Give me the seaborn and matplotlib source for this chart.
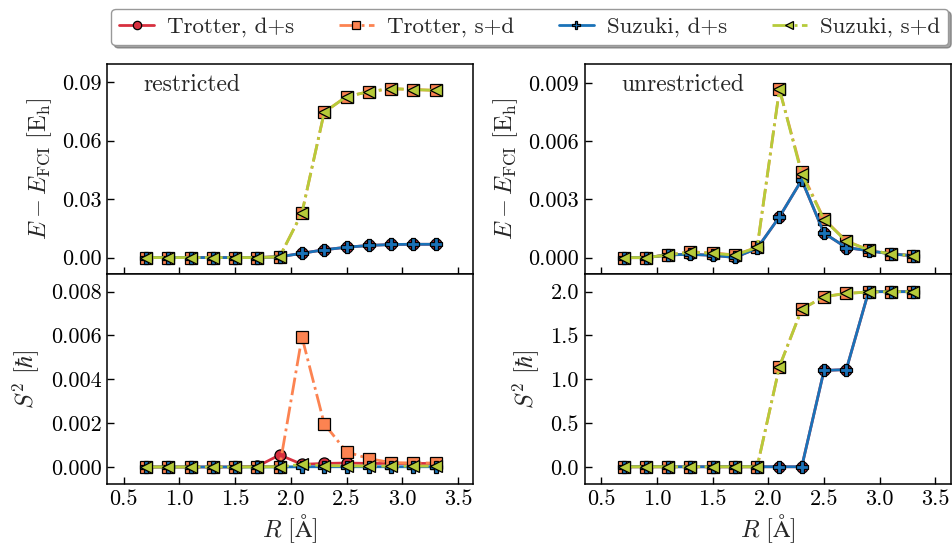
import numpy as np
import pandas as pd
import matplotlib
matplotlib.use('Agg')
import matplotlib.pyplot as plt
import seaborn as sns

R = [0.7, 0.9, 1.1, 1.3, 1.5, 1.7, 1.9, 2.1, 2.3, 2.5, 2.7, 2.9, 3.1, 3.3]

# restricted, energy error
rE_trot_ds = [0, 0, 0, 0, 0, 0, 0.0004, 0.0022, 0.0040, 0.0053, 0.0062, 0.0067, 0.0068, 0.0068]
rE_trot_sd = [0, 0, 0, 0, 0, 0, 0.0004, 0.0229, 0.0745, 0.0825, 0.0850, 0.0866, 0.0861, 0.0857]
rE_suz_ds = [0, 0, 0, 0, 0, 0, 0.0004, 0.0022, 0.0040, 0.0053, 0.0062, 0.0067, 0.0068, 0.0068]
rE_suz_sd = [0, 0, 0, 0, 0, 0, 0.0004, 0.0229, 0.0745, 0.0825, 0.0850, 0.0866, 0.0861, 0.0857]

# unrestricted, energy error
uE_trot_ds = [0, 0, 0.00014, 0.00017, 0.00012, 0.00001, 0.00048, 0.0021, 0.0040, 0.00126, 0.00052, 0.00036, 0.00019, 0.0001]
uE_trot_sd = [0, 0, 0.00014, 0.00030, 0.00024, 0.00014, 0.00053, 0.00867, 0.0044, 0.00198, 0.00086, 0.00040, 0.00019, 0.0001]
uE_suz_ds = [0, 0, 0.00014, 0.00017, 0.00012, 0.00001, 0.00048, 0.0021, 0.0040, 0.00126, 0.00052, 0.00036, 0.00019, 0.0001]
uE_suz_sd = [0, 0, 0.00014, 0.00028, 0.00022, 0.00013, 0.00053, 0.00867, 0.0043, 0.00196, 0.00084, 0.00040, 0.00019, 0.0001]

# restricted, S^2
rS_trot_ds = [0, 0, 0, 0, 0, 0.00003, 0.00055, 0.00012, 0.00016, 0.00018, 0.00016, 0.00016, 0.00016, 0.00016]
rS_trot_sd = [0, 0, 0, 0, 0, 0.00002, 0.00002, 0.00593, 0.00197, 0.00069, 0.00038, 0.00020, 0.00018, 0.00018]
rS_suz_ds = [0, 0, 0, 0, 0, 0, 0, 0.00001, 0.00001, 0.00001, 0.00001, 0.00001, 0.00001, 0.00001]
rS_suz_sd = [0, 0, 0, 0, 0, 0, 0.00001, 0.00012, 0.00006, 0.00005, 0.00004, 0.00004, 0.00004, 0.00004]

# unrestricted, S^2
uS_trot_ds = [0, 0, 0, 0, 0, 0, 0, 0, 0, 1.10, 1.11, 2.0, 2.0, 2.0]
uS_trot_sd = [0, 0, 0, 0, 0, 0, 0, 1.145, 1.80, 1.943, 1.98, 1.996, 2.0, 2.0]
uS_suz_ds = [0, 0, 0, 0, 0, 0, 0, 0, 0, 1.10, 1.11, 2.0, 2.0, 2.0]
uS_suz_sd = [0, 0, 0, 0, 0, 0, 0, 1.145, 1.80, 1.943, 1.98, 1.996, 2.0, 2.0]

labels = ['Trotter, d+s', 'Trotter, s+d', 'Suzuki, d+s', 'Suzuki, s+d']
colors = ['#d7303f', '#fc8351', '#1a72b8', '#b6cb3a']
markers = ['o', 's', 'P', '<']
styles = ['-', '-.', '-', '-.']

sns.set_style('ticks')
plt.rcParams['font.family'] = 'serif'
plt.rcParams['font.serif'] = ['cmr10']
plt.rcParams['mathtext.fontset'] = 'cm'
plt.rcParams['axes.formatter.use_mathtext'] = True
plt.rcParams['axes.unicode_minus'] = False

fig = plt.figure(figsize=(9.53, 5.5), dpi=100)
gs = fig.add_gridspec(2, 2, left=0.1123, right=0.9979, top=0.8836, bottom=0.1195,
                      hspace=0, wspace=0.303)
axes = [[fig.add_subplot(gs[i, j]) for j in range(2)] for i in range(2)]

panels = [
    (axes[0][0], [rE_trot_ds, rE_trot_sd, rE_suz_ds, rE_suz_sd], (-0.0085, 0.0992), [0, 0.03, 0.06, 0.09], '{:.2f}'),
    (axes[0][1], [uE_trot_ds, uE_trot_sd, uE_suz_ds, uE_suz_sd], (-0.00085, 0.00997), [0, 0.003, 0.006, 0.009], '{:.3f}'),
    (axes[1][0], [rS_trot_ds, rS_trot_sd, rS_suz_ds, rS_suz_sd], (-0.00079, 0.0088), [0, 0.002, 0.004, 0.006, 0.008], '{:.3f}'),
    (axes[1][1], [uS_trot_ds, uS_trot_sd, uS_suz_ds, uS_suz_sd], (-0.2, 2.2), [0, 0.5, 1.0, 1.5, 2.0], '{:.1f}'),
]

for ax, series, ylim, yticks, fmt in panels:
    for k, vals in enumerate(series):
        df = pd.DataFrame({'R': R, 'v': vals})
        sns.lineplot(data=df, x='R', y='v', ax=ax, color=colors[k], linestyle=styles[k],
                     marker=markers[k], markersize=8, markeredgecolor='k', markeredgewidth=0.9,
                     linewidth=2, label=labels[k], legend=False)
    ax.set_xlim(0.35, 3.64)
    ax.set_ylim(*ylim)
    ax.set_yticks(yticks)
    ax.set_yticklabels([fmt.format(t) for t in yticks])
    ax.set_xticks([0.5, 1.0, 1.5, 2.0, 2.5, 3.0, 3.5])
    ax.tick_params(direction='in', length=5, width=1, labelsize=16, colors='k', pad=4)
    for s in ax.spines.values():
        s.set_linewidth(1.1)
        s.set_color('k')
    ax.set_xlabel('')
    ax.set_ylabel('')

for j in range(2):
    axes[0][j].set_xticklabels([])
    axes[1][j].set_xticklabels(['0.5', '1.0', '1.5', '2.0', '2.5', '3.0', '3.5'])
    axes[1][j].set_xlabel(r'$R\ [\mathrm{\AA}]$', fontsize=17.5, labelpad=2)
    axes[0][j].set_ylabel(r'$E - E_{\mathrm{FCI}}\ [\mathrm{E_h}]$', fontsize=17.5, labelpad=6)
    axes[1][j].set_ylabel(r'$S^2\ [\hbar]$', fontsize=17.5, labelpad=6)

axes[0][0].text(0.10, 0.90, 'restricted', transform=axes[0][0].transAxes, fontsize=17, va='center')
axes[0][1].text(0.10, 0.90, 'unrestricted', transform=axes[0][1].transAxes, fontsize=17, va='center')

handles, labs = axes[0][0].get_legend_handles_labels()
fig.legend(handles, labs, loc='upper center', bbox_to_anchor=(0.556, 1.005), ncol=4,
           fontsize=16.5, frameon=True, fancybox=True, shadow=True, edgecolor='0.6',
           handlelength=1.5, handletextpad=0.6, columnspacing=1.95, borderpad=0.35,
           markerscale=0.75)

fig.savefig('out.png', dpi=100)
